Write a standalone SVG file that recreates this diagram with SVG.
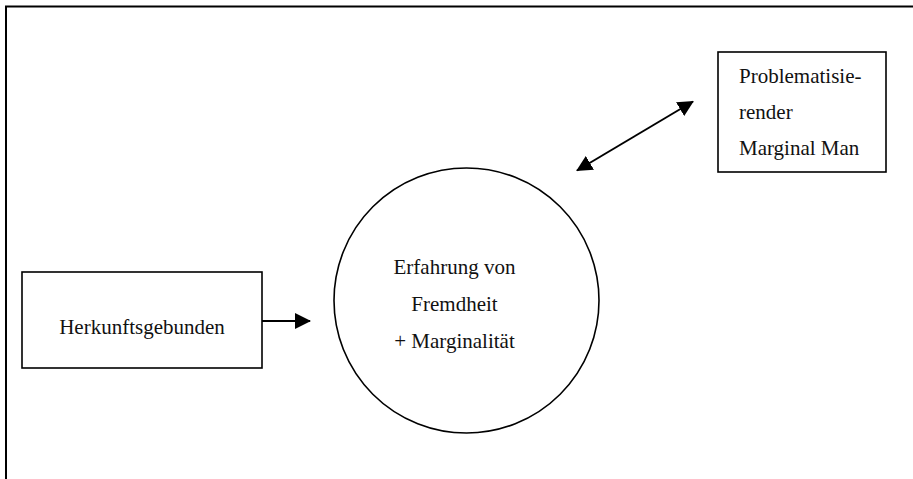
<svg xmlns="http://www.w3.org/2000/svg" width="913" height="479" viewBox="0 0 913 479">
  <style>
    .frame { fill: none; stroke: #000; stroke-width: 2; }
    .shape { fill: #fff; stroke: #000; stroke-width: 1.6; }
    .lbl { font-family: "Liberation Serif", "Times New Roman", serif; font-size: 21px; fill: #111; }
    .mid { text-anchor: middle; }
    .edge { fill: none; stroke: #000; stroke-width: 2; }
  </style>
  <defs>
    <marker id="head" viewBox="0 0 16 16" refX="15" refY="8" markerWidth="16" markerHeight="16" markerUnits="userSpaceOnUse" orient="auto-start-reverse">
      <path d="M0,0 L16,8 L0,16 Z" fill="#000"/>
    </marker>
  </defs>

  <rect width="913" height="479" fill="#fff"/>
  <!-- outer frame: top and left edges only -->
  <path class="frame" d="M6,479 L6,6.5 L913,6.5"/>

  <g id="connectors">
    <line class="edge" x1="262" y1="321" x2="310" y2="321" marker-end="url(#head)"/>
    <line class="edge" x1="577" y1="170.5" x2="693" y2="101.5" marker-start="url(#head)" marker-end="url(#head)"/>
  </g>

  <g id="herkunft">
    <rect class="shape" x="22" y="272" width="240" height="96"/>
    <text class="lbl mid" x="142" y="334">Herkunftsgebunden</text>
  </g>

  <g id="erfahrung">
    <circle class="shape" cx="466.5" cy="300.5" r="132.5"/>
    <text class="lbl mid" x="454.5" y="274">Erfahrung von</text>
    <text class="lbl mid" x="454.5" y="311">Fremdheit</text>
    <text class="lbl mid" x="454.5" y="348">+ Marginalität</text>
  </g>

  <g id="marginal-man">
    <rect class="shape" x="718" y="52" width="168" height="120"/>
    <text class="lbl" x="739" y="83">Problematisie-</text>
    <text class="lbl" x="739" y="119">render</text>
    <text class="lbl" x="739" y="155">Marginal Man</text>
  </g>
</svg>
